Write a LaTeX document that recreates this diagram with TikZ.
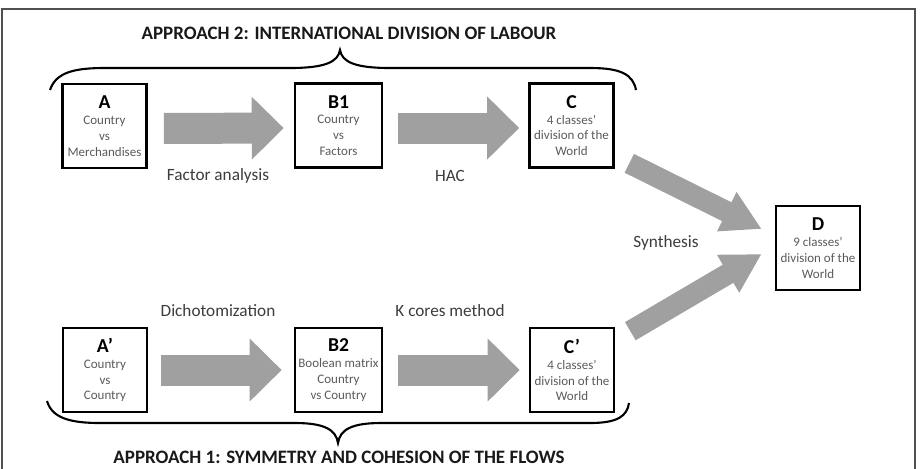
\documentclass[tikz,border=0pt]{standalone}
\usepackage{fontspec}
\setmainfont{Carlito}
\usepackage{tikz}
\usetikzlibrary{arrows.meta,calc}

\definecolor{arrowgray}{HTML}{A0A0A0}
\definecolor{textgray}{HTML}{5A5A5A}
\definecolor{labelgray}{HTML}{3C3C3C}
\definecolor{framegray}{HTML}{505050}

\tikzset{
  stage/.style={draw, line width=1.5pt, minimum width=1.68cm, minimum height=1.68cm,
    inner sep=0pt, align=center, text=textgray, font=\fontsize{7.4}{9}\selectfont},
  widestage/.style={stage, minimum width=1.74cm},
  fatarrow/.style={draw=arrowgray, line width=0.62cm, -{Triangle[width=1.22cm,length=0.64cm]}},
  slimarrow/.style={draw=arrowgray, line width=0.42cm, -{Triangle[width=0.82cm,length=0.78cm]}},
  steplabel/.style={text=labelgray, font=\fontsize{9.8}{11}\selectfont},
  approach/.style={text=black!90, font=\fontsize{10.8}{12}\selectfont\bfseries},
  curlybrace/.style={line width=1.2pt}
}
\newcommand{\stageletter}[1]{{\fontsize{11.2}{12}\selectfont\bfseries\color{black}#1}}

\begin{document}
\begin{tikzpicture}[x=0.02cm, y=-0.02cm]
  \useasboundingbox (0,0) rectangle (923,468);
  \draw[framegray, line width=0.8pt] (2,9) rectangle (915,480);

  % approach 2 (top row)
  \node[approach] (title2) at (349,33) {APPROACH 2: INTERNATIONAL DIVISION OF LABOUR};
  \draw[curlybrace] (50,90) .. controls (56,72) and (75,68) .. (105,68) -- (290,68)
    .. controls (325,68) and (338,62) .. (340,50) .. controls (342,62) and (355,68) .. (390,68)
    -- (590,68) .. controls (620,68) and (633,74) .. (636,90);

  \node[stage] (a) at (104.5,126) {\stageletter{A}\\ Country\\ vs\\ Merchandises};
  \node[widestage] (b1) at (338.5,125.5) {\stageletter{B1}\\ Country\\ vs\\ Factors};
  \node[stage] (c) at (571.5,125.5) {\stageletter{C}\\ 4 classes’\\ division of the\\ World};

  \draw[fatarrow, shorten <=0.32cm, shorten >=0.2cm] ([yshift=-0.05cm]a.east) -- ([yshift=-0.05cm]b1.west);
  \draw[fatarrow, shorten <=0.3cm, shorten >=0.18cm] ([yshift=-0.05cm]b1.east) -- ([yshift=-0.05cm]c.west);
  \node[steplabel] (fa) at (218,176) {Factor analysis};
  \node[steplabel] (hac) at (450,176) {HAC};

  % synthesis
  \node[stage] (d) at (818,248) {\stageletter{D}\\ 9 classes’\\ division of the\\ World};
  \node[steplabel] (syn) at (666,243) {Synthesis};

  % approach 1 (bottom row)
  \node[stage] (ap) at (105,370) {\stageletter{A’}\\ Country\\ vs\\ Country};
  \node[widestage] (b2) at (338.5,370) {\stageletter{B2}\\ Boolean matrix\\ Country\\ vs Country};
  \node[stage] (cp) at (572,370) {\stageletter{C’}\\ 4 classes’\\ division of the\\ World};

  \draw[fatarrow, shorten <=0.26cm, shorten >=0.24cm] (ap.east) -- (b2.west);
  \draw[fatarrow, shorten <=0.3cm, shorten >=0.18cm] (b2.east) -- (cp.west);
  \node[steplabel] (dich) at (218,311) {Dichotomization};
  \node[steplabel] (kcore) at (450,311) {K cores method};

  \coordinate (s1) at ($(c.south east)+(14.5,-5.5)$);
  \coordinate (e1) at ($(d.west)+(-13,-19)$);
  \coordinate (s2) at ($(cp.north east)+(15,4.5)$);
  \coordinate (e2) at ($(d.west)+(-13,6)$);
  \draw[slimarrow] (s1) -- (e1);
  \draw[slimarrow] (s2) -- (e2);

  \draw[curlybrace] (47,401) .. controls (52,418) and (70,423) .. (100,423) -- (295,423)
    .. controls (325,423) and (336,430) .. (338,443) .. controls (340,430) and (351,423) .. (381,423)
    -- (590,423) .. controls (618,423) and (627,416) .. (629,403);
  \node[approach] (title1) at (339,457) {APPROACH 1: SYMMETRY AND COHESION OF THE FLOWS};
\end{tikzpicture}
\end{document}
